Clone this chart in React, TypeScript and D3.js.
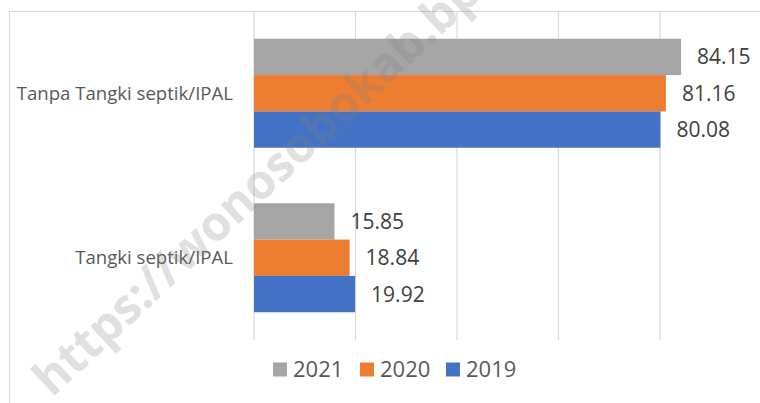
import React from 'react';
import * as d3 from 'd3';

const categories = ['Tanpa Tangki septik/IPAL', 'Tangki septik/IPAL'];
const years = ['2021', '2020', '2019'];
const values2021 = [84.15, 15.85];
const values2020 = [81.16, 18.84];
const values2019 = [80.08, 19.92];
const gridTicks = [0, 20, 40, 60, 80, 100];

const colors: Record<string, string> = { '2021': '#A5A5A5', '2020': '#ED7D31', '2019': '#4472C4' };
const seriesValues: Record<string, number[]> = { '2021': values2021, '2020': values2020, '2019': values2019 };

const W = 760;
const H = 403;
const font = '"Open Sans", sans-serif';

const App = () => {
  const x = d3.scaleLinear().domain([0, 100]).range([254, 761.5]);
  const y0 = d3.scaleBand().domain(categories).range([11, 340]);
  const y1 = d3.scaleBand().domain(years).range([0, y0.bandwidth()]).paddingInner(0).paddingOuter(0.764);

  const legendX = [273, 360, 446];

  return (
    <svg width={W} height={H} style={{ position: 'absolute', left: 0, top: 0, background: '#fff' }}>
      <rect x={9.5} y={11.5} width={900} height={500} fill="none" stroke="#D9D9D9" strokeWidth={1.2} />
      {gridTicks.map(t => (
        <line key={t} x1={x(t)} x2={x(t)} y1={11} y2={340} stroke="#D9D9D9" strokeWidth={1.2} />
      ))}
      {categories.map((c, ci) => (
        <g key={c} transform={`translate(0,${y0(c)})`}>
          {years.map(yr => {
            const v = seriesValues[yr][ci];
            const yy = y1(yr)!;
            return (
              <g key={yr}>
                <rect x={x(0)} y={yy} width={x(v) - x(0)} height={y1.bandwidth()} fill={colors[yr]} />
                <text x={x(v) + 16} y={yy + y1.bandwidth() / 2} dy="0.36em" fontFamily={font} fontSize={21} fill="#404040">
                  {v.toFixed(2)}
                </text>
              </g>
            );
          })}
          <text x={233} y={y0.bandwidth() / 2} dy="0.36em" textAnchor="end" fontFamily={font} fontSize={18.6} fill="#595959">
            {c}
          </text>
        </g>
      ))}
      {years.map((yr, i) => (
        <g key={yr} transform={`translate(${legendX[i]},369.5)`}>
          <rect x={0} y={-7} width={14} height={14} fill={colors[yr]} />
          <text x={20} y={0} dy="0.36em" fontFamily={font} fontSize={22} fill="#595959">{yr}</text>
        </g>
      ))}
      <text
        transform="translate(52,398) rotate(-43)"
        fontFamily={font}
        fontWeight={700}
        fontSize={48}
        fill="#808080"
        opacity={0.24}
      >
        https://wonosobokab.bps.go.id
      </text>
    </svg>
  );
};

export default App;
